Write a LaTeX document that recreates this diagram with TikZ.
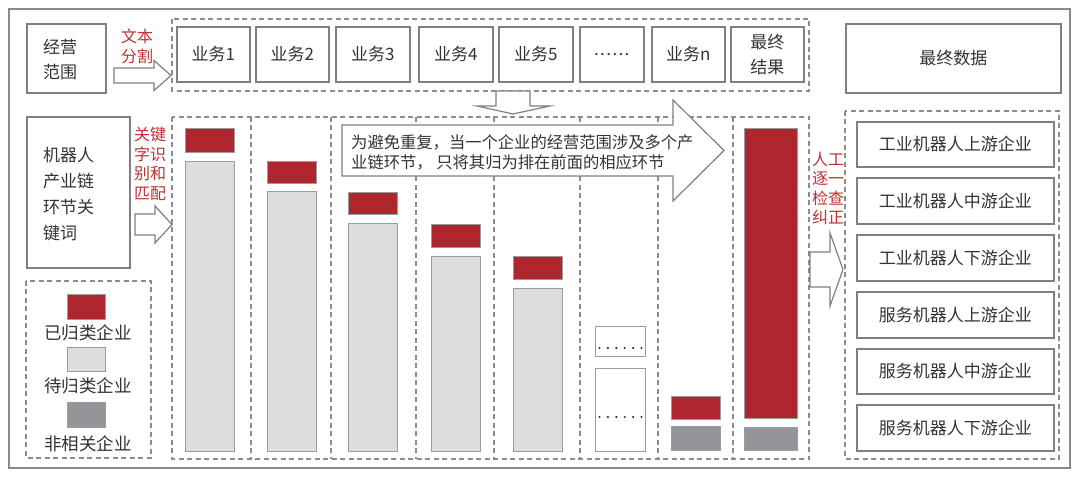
\documentclass[tikz,border=0pt]{standalone}
\usepackage{fontspec}
\setmainfont{Noto Sans CJK SC}
\definecolor{framec}{HTML}{8A8A8A}
\definecolor{boxc}{HTML}{808080}
\definecolor{dashc}{HTML}{8C8C8C}
\definecolor{txtc}{HTML}{333333}
\definecolor{redc}{HTML}{B0262E}
\definecolor{redt}{HTML}{C0302E}
\definecolor{lgray}{HTML}{DCDDDF}
\definecolor{dgray}{HTML}{939598}
\definecolor{barb}{HTML}{9C9C9C}
\newcommand\mkrect[7]{\node[#1, anchor=north west, minimum width={#5-#3}, minimum height={#6-#4}] (#2) at (#3,#4) {#7};}
\newcommand\rarrow[7]{\draw[blockarrow] ({#2},{#5-#6}) -- ({#3},{#5-#6}) -- ({#3},{#5-#7}) -- ({#4},{#5}) -- ({#3},{#5+#7}) -- ({#3},{#5+#6}) -- ({#2},{#5+#6}) -- cycle; \coordinate (#1) at ({#4},{#5});}
\begin{document}
\begin{tikzpicture}[x=1pt,y=-1pt,
  solidbox/.style={draw=boxc, line width=1.6pt, fill=white, inner sep=0pt, text=txtc, font=\fontsize{17}{25}\selectfont, align=center},
  dbox/.style={draw=dashc, line width=1.3pt, dash pattern=on 5pt off 3.5pt},
  redbar/.style={draw=barb, line width=0.8pt, fill=redc, inner sep=0pt},
  graybar/.style={draw=barb, line width=0.8pt, fill=lgray, inner sep=0pt},
  darkbar/.style={draw=barb, line width=0.8pt, fill=dgray, inner sep=0pt},
  whitebar/.style={draw=barb, line width=0.8pt, fill=white, inner sep=0pt},
  blockarrow/.style={draw=boxc, line width=1.2pt, fill=white, line join=miter},
  txt/.style={inner sep=0pt, text=txtc, font=\fontsize{17}{25}\selectfont, align=left},
  rtxt/.style={inner sep=0pt, text=redt, font=\fontsize{16}{19.5}\selectfont, align=left},
  dotc/.style={fill=black!80, draw=none}
]
\useasboundingbox (0,0) rectangle (1080,478);
\fill[white] (0,0) rectangle (1080,478);
% outer frame
\draw[draw=framec, line width=2pt] (9,9) rectangle (1070,468);

% top row
\mkrect{solidbox}{jyfw}{26}{23}{105}{92}{}
\node[txt, anchor=west] (jyfwt) at (43,59.5) {经营\\范围};
\node[rtxt] (wbfg) at (137,46.5) {文本\\分割};
\rarrow{a1}{114}{154}{171}{75.5}{7.5}{15}

\draw[dbox] (172,19) rectangle (809,91);
\mkrect{solidbox}{b1}{176}{26}{249}{81}{业务1}
\mkrect{solidbox}{b2}{255}{26}{328}{81}{业务2}
\mkrect{solidbox}{b3}{335}{26}{409}{81}{业务3}
\mkrect{solidbox}{b4}{418}{26}{492}{81}{业务4}
\mkrect{solidbox}{b5}{498}{26}{572}{81}{业务5}
\mkrect{solidbox}{bd}{579}{26}{643}{81}{\raisebox{-2pt}{.\hspace{1.4pt}.\hspace{1.4pt}.\hspace{1.4pt}.\hspace{1.4pt}.\hspace{1.4pt}.}}
\mkrect{solidbox}{bn}{651}{26}{724}{81}{业务n}
\mkrect{solidbox}{bf}{730}{26}{803}{81}{最终\\结果}

\mkrect{solidbox}{zzsj}{845}{23}{1060}{92}{最终数据}

% down arrow
\draw[blockarrow] (496,91) -- (530,91) -- (530,106) -- (550,106) -- (513,114) -- (477,106) -- (496,106) -- cycle;
\coordinate (dtip) at (513,114);

% left second row
\mkrect{solidbox}{jqr}{26}{116}{129}{267}{}
\node[txt, anchor=west] (jqrt) at (43,194) {机器人\\[1pt]产业链\\[1pt]环节关\\[1pt]键词};
\node[rtxt] (gjz) at (150,164) {关键\\字识\\别和\\匹配};
\rarrow{a2}{135}{155}{172}{224.5}{10.5}{18.5}

% legend
\draw[dbox] (26,281) rectangle (151,458);
\mkrect{redbar}{lg1}{67}{294}{105}{319}{}
\node[txt, font=\fontsize{17.5}{25}\selectfont] (lg1t) at (88,333) {已归类企业};
\mkrect{graybar}{lg2}{67}{347}{105}{371}{}
\node[txt, font=\fontsize{17.5}{25}\selectfont] (lg2t) at (88,386) {待归类企业};
\mkrect{darkbar}{lg3}{67}{402}{105}{427}{}
\node[txt, font=\fontsize{17.5}{25}\selectfont] (lg3t) at (88,444) {非相关企业};

% bar region
\draw[dbox] (172,117) rectangle (809,459);
\foreach \xx in {251,331,416,494,580,658,733} {\draw[dbox] (\xx,117) -- (\xx,459);}

\mkrect{redbar}{r1}{185}{128}{234}{152}{}
\mkrect{graybar}{g1}{185}{161}{234}{451}{}
\mkrect{redbar}{r2}{267}{161}{316}{183}{}
\mkrect{graybar}{g2}{267}{191}{316}{451}{}
\mkrect{redbar}{r3}{348}{192}{397}{214}{}
\mkrect{graybar}{g3}{348}{223}{397}{451}{}
\mkrect{redbar}{r4}{431}{224}{480}{247}{}
\mkrect{graybar}{g4}{431}{256}{480}{451}{}
\mkrect{redbar}{r5}{513}{256}{562}{279}{}
\mkrect{graybar}{g5}{513}{288}{562}{451}{}
\mkrect{whitebar}{w1}{595}{326}{645}{356}{}
\mkrect{whitebar}{w2}{595}{368}{645}{451}{}
\foreach \k in {0,...,5} {
  \fill[dotc] ({599.5+\k*8.4},348) circle (1.2);
  \fill[dotc] ({599.5+\k*8.4},417) circle (1.2);
}
\mkrect{redbar}{r7}{671}{396}{720}{419}{}
\mkrect{darkbar}{k7}{671}{426}{720}{450}{}
\mkrect{redbar}{r8}{744}{128}{797}{418}{}
\mkrect{darkbar}{k8}{744}{427}{797}{450}{}

% big arrow with note
\rarrow{a4}{342}{673}{724}{150.5}{25.5}{50.5}
\node[txt, anchor=west, font=\fontsize{16.3}{19.6}\selectfont] (note) at (351,152.5) {为避免重复，当一个企业的经营范围涉及多个产\\业链环节， 只将其归为排在前面的相应环节};

% right side
\node[rtxt] (rgjc) at (828,188.5) {人工\\逐一\\检查\\纠正};
\rarrow{a3}{810}{830}{843}{269.5}{17.5}{36.5}

\draw[dbox] (845,111) rectangle (1059,459);
\mkrect{solidbox}{c1}{856}{121}{1053}{166}{工业机器人上游企业}
\mkrect{solidbox}{c2}{856}{177}{1053}{223}{工业机器人中游企业}
\mkrect{solidbox}{c3}{856}{234}{1053}{280}{工业机器人下游企业}
\mkrect{solidbox}{c4}{856}{291}{1053}{337}{服务机器人上游企业}
\mkrect{solidbox}{c5}{856}{348}{1053}{393}{服务机器人中游企业}
\mkrect{solidbox}{c6}{856}{404}{1053}{450}{服务机器人下游企业}
\end{tikzpicture}
\end{document}
